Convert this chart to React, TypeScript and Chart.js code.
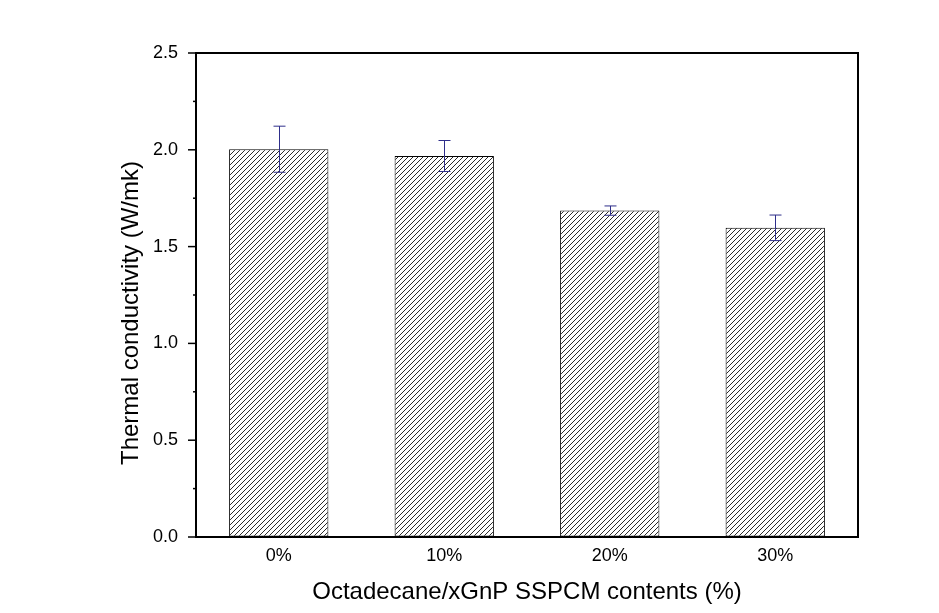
import React, { useEffect, useRef } from "react";
import { Chart, registerables } from "chart.js";

Chart.register(...registerables);

const categories = ["0%", "10%", "20%", "30%"];
const conductivity = [2.003, 1.968, 1.686, 1.597];
const errorValues = [0.119, 0.08, 0.024, 0.066];
const yMin = 0;
const yMax = 2.5;
const yStep = 0.25;
const xTitle = "Octadecane/xGnP SSPCM contents (%)";
const yTitle = "Thermal conductivity (W/mk)";

const FONT = "'Liberation Sans', Arial, sans-serif";

function makeHatch(ctx: CanvasRenderingContext2D): CanvasPattern | string {
  const s = 5;
  const c = document.createElement("canvas");
  c.width = s;
  c.height = s;
  const p = c.getContext("2d")!;
  p.fillStyle = "#ffffff";
  p.fillRect(0, 0, s, s);
  p.strokeStyle = "#2a2a2a";
  p.lineWidth = 1;
  for (let k = -1; k <= 1; k++) {
    p.beginPath();
    p.moveTo(k * s, s);
    p.lineTo(k * s + s, 0);
    p.stroke();
  }
  return ctx.createPattern(c, "repeat") || "#ccc";
}

const decorPlugin = {
  id: "decor",
  afterDatasetsDraw(chart: any) {
    const ctx = chart.ctx as CanvasRenderingContext2D;
    const xs = chart.scales.x;
    const ys = chart.scales.y;
    const area = chart.chartArea;
    ctx.save();
    // error bars
    ctx.strokeStyle = "#2e2e8a";
    ctx.lineWidth = 1;
    conductivity.forEach((v, i) => {
      const x = Math.round(xs.getPixelForValue(i)) + 0.5;
      const yt = ys.getPixelForValue(v + errorValues[i]);
      const yb = ys.getPixelForValue(v - errorValues[i]);
      ctx.beginPath();
      ctx.moveTo(x, yt);
      ctx.lineTo(x, yb);
      ctx.moveTo(x - 6, yt);
      ctx.lineTo(x + 6, yt);
      ctx.moveTo(x - 6, yb);
      ctx.lineTo(x + 6, yb);
      ctx.stroke();
    });
    // frame
    ctx.strokeStyle = "#000";
    ctx.lineWidth = 2;
    ctx.strokeRect(area.left, area.top, area.right - area.left, area.bottom - area.top);
    // y ticks (outward)
    ctx.lineWidth = 1.5;
    ys.ticks.forEach((t: any) => {
      const y = ys.getPixelForValue(t.value);
      const major = Math.abs(t.value * 2 - Math.round(t.value * 2)) < 1e-6;
      const len = major ? 8 : 3;
      ctx.beginPath();
      ctx.moveTo(area.left - len, y);
      ctx.lineTo(area.left, y);
      ctx.stroke();
    });
    // y title
    ctx.translate(131, (area.top + area.bottom) / 2 + 18);
    ctx.rotate(-Math.PI / 2);
    ctx.fillStyle = "#000";
    ctx.font = `24px ${FONT}`;
    ctx.textAlign = "center";
    ctx.textBaseline = "middle";
    ctx.fillText(yTitle, 0, 0);
    ctx.restore();
  },
};

export default function App() {
  const ref = useRef<HTMLCanvasElement | null>(null);
  useEffect(() => {
    document.body.style.margin = "0";
    const canvas = ref.current!;
    const ctx = canvas.getContext("2d")!;
    const hatch = makeHatch(ctx);
    const chart = new Chart(canvas, {
      type: "bar",
      data: {
        labels: categories,
        datasets: [
          {
            data: conductivity,
            backgroundColor: hatch as any,
            borderColor: "#000",
            borderWidth: 1,
            borderSkipped: false,
            barPercentage: 0.6,
            categoryPercentage: 1,
          },
        ],
      },
      options: {
        animation: false,
        responsive: false,
        devicePixelRatio: 1,
        layout: { padding: { top: 53, right: 81, left: 0, bottom: 0 } },
        plugins: { legend: { display: false }, tooltip: { enabled: false } },
        scales: {
          x: {
            grid: { display: false, drawTicks: false },
            border: { display: false },
            ticks: { color: "#000", font: { family: FONT, size: 18 }, padding: 8 },
            title: {
              display: true,
              text: xTitle,
              color: "#000",
              font: { family: FONT, size: 24 },
              padding: { top: 0, bottom: 6 },
            },
            afterFit: (s: any) => {
              s.height = 76;
            },
          },
          y: {
            min: yMin,
            max: yMax,
            grid: { display: true, drawOnChartArea: false, drawTicks: false },
            border: { display: false },
            ticks: {
              stepSize: yStep,
              color: "#000",
              font: { family: FONT, size: 18 },
              padding: 18,
              autoSkip: false,
              callback: (v: any) => {
                const n = Number(v);
                return Math.abs(n * 2 - Math.round(n * 2)) < 1e-6 ? n.toFixed(1) : "";
              },
            },
            title: { display: false },
            afterFit: (s: any) => {
              s.width = 196;
            },
          },
        },
      },
      plugins: [decorPlugin],
    });
    return () => chart.destroy();
  }, []);
  return (
    <div style={{ width: 939, height: 613, background: "#fff" }}>
      <canvas ref={ref} width={939} height={613} style={{ width: 939, height: 613, display: "block" }} />
    </div>
  );
}
